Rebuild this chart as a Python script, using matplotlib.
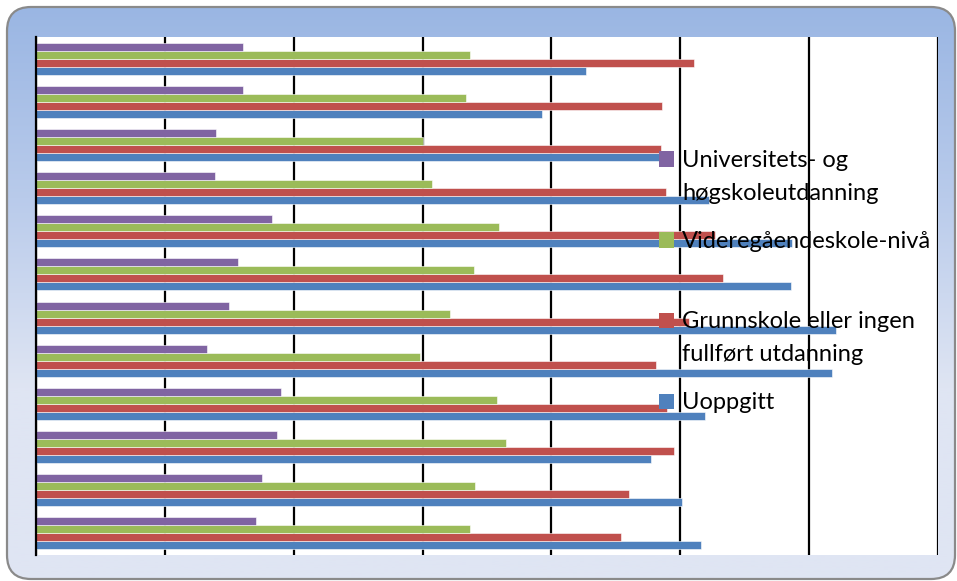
import numpy as np
import matplotlib
matplotlib.use('Agg')
import matplotlib.pyplot as plt
from matplotlib.patches import FancyBboxPatch, Rectangle
from matplotlib.colors import LinearSegmentedColormap

# categories go bottom -> top, as in the spreadsheet
groups = np.arange(12)
uoppgitt = [51.6, 50.1, 47.7, 51.9, 61.8, 62.1, 58.6, 58.7, 52.2, 48.4, 39.3, 42.7]
grunnskole = [45.4, 46.0, 49.5, 49.0, 48.1, 50.7, 53.3, 52.7, 48.9, 48.5, 48.6, 51.1]
videregaende = [33.7, 34.1, 36.5, 35.8, 29.8, 32.1, 34.0, 35.9, 30.7, 30.0, 33.4, 33.7]
universitet = [17.1, 17.5, 18.7, 19.0, 13.3, 15.0, 15.7, 18.3, 13.9, 14.0, 16.1, 16.1]

series = [
    ('Uoppgitt', uoppgitt, '#4F81BD'),
    ('Grunnskole eller ingen\nfullført utdanning', grunnskole, '#C0504D'),
    ('Videregåendeskole-nivå', videregaende, '#9BBB59'),
    ('Universitets- og\nhøgskoleutdanning', universitet, '#8064A2'),
]

W, H = 957, 581
fig = plt.figure(figsize=(W / 100, H / 100), dpi=100)

# rounded frame with a vertical blue gradient
bg = fig.add_axes([0, 0, 1, 1])
bg.set_xlim(0, W)
bg.set_ylim(H, 0)
bg.axis('off')
r = 24
x0, y0, x1, y1 = 7, 7, 955, 579
frame = FancyBboxPatch((x0 + r, y0 + r), (x1 - x0) - 2 * r, (y1 - y0) - 2 * r,
                       boxstyle=f'round,pad={r}', facecolor='none',
                       edgecolor='#8A8A8A', linewidth=1.6, zorder=3)
bg.add_patch(frame)
cmap = LinearSegmentedColormap.from_list('frame', ['#9AB6E3', '#B9CBEB', '#DFE5F3', '#DFE5F3'])
grad = np.linspace(0, 1, 256).reshape(-1, 1)
im = bg.imshow(grad, cmap=cmap, extent=[x0, x1, y1, y0], aspect='auto', zorder=1)
im.set_clip_path(frame)

# plot area
left, right, top, bottom = 36, 938, 37, 555
ax = fig.add_axes([left / W, 1 - bottom / H, (right - left) / W, (bottom - top) / H])
ax.set_facecolor('white')

h = 0.186
offsets = [-1.5 * h, -0.5 * h, 0.5 * h, 1.5 * h]
for (label, vals, color), off in zip(series, offsets):
    ax.barh(groups + off, vals, height=h, color=color,
            edgecolor='#FFFFFF', linewidth=0.4, zorder=2)

ax.set_xlim(0, 70)
ax.set_ylim(-0.5, 11.5)
ax.set_xticks(np.arange(0, 71, 10))
ax.set_yticks([])
ax.tick_params(axis='x', length=0, labelbottom=False)
ax.grid(axis='x', color='black', linewidth=1.6, zorder=1)
ax.set_axisbelow(True)
for s in ['top', 'bottom', 'right']:
    ax.spines[s].set_visible(False)
ax.spines['left'].set_linewidth(1.6)
ax.spines['left'].set_zorder(3)

# legend, entries evenly spaced with the key beside the first line
fx = lambda px: (px - left) / (right - left)
fy = lambda py: 1 - (py - top) / (bottom - top)
key_y = [159, 240, 320, 401]
line_gap = 32.6
for (label, vals, color), ky in zip(series[::-1], key_y):
    ax.add_patch(Rectangle((fx(659), fy(ky + 7.5)), fx(674) - fx(659),
                           fy(ky - 7.5) - fy(ky + 7.5), transform=ax.transAxes,
                           facecolor=color, edgecolor='none', zorder=4, clip_on=False))
    for i, line in enumerate(label.split('\n')):
        ax.text(fx(682), fy(ky + 8 + i * line_gap), line, transform=ax.transAxes,
                ha='left', va='baseline', fontsize=17, family=['Lato', 'DejaVu Sans'],
                zorder=5)

fig.savefig('out.png', dpi=100)
